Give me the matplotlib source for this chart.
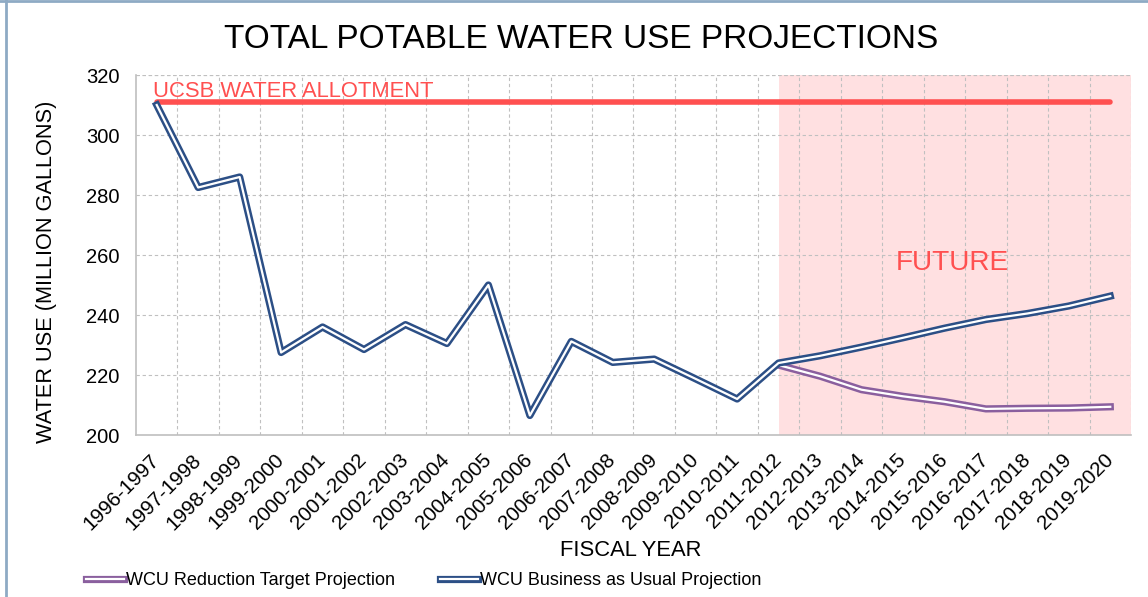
import numpy as np
import matplotlib
matplotlib.use("Agg")
import matplotlib.pyplot as plt
import matplotlib.patheffects as pe
from matplotlib.lines import Line2D
from matplotlib.transforms import ScaledTranslation

BASE = ['Liberation Sans', 'DejaVu Sans']
plt.rcParams['font.family'] = BASE

years = ['1996-1997', '1997-1998', '1998-1999', '1999-2000', '2000-2001', '2001-2002',
         '2002-2003', '2003-2004', '2004-2005', '2005-2006', '2006-2007', '2007-2008',
         '2008-2009', '2009-2010', '2010-2011', '2011-2012', '2012-2013', '2013-2014',
         '2014-2015', '2015-2016', '2016-2017', '2017-2018', '2018-2019', '2019-2020']
bau = [310, 282.5, 286, 227.5, 236, 228.5, 236.8, 230.5, 250, 206.5, 231.2, 224.2,
       225.3, 218.7, 212, 224, 226.4, 229.3, 232.4, 235.6, 238.5, 240.5, 243, 246.3]
reduction = [np.nan] * 15 + [223.3, 219.6, 215.1, 212.9, 211.1, 208.7, 208.9, 209.0, 209.4]
allotment = [311] * 24
future_start = 15

fig = plt.figure(figsize=(11.48, 5.97), dpi=100)
ax = fig.add_axes([136/1148, 1-435/597, (1131-136)/1148, (435-75)/597])
renderer = fig.canvas.get_renderer()


def fit(t, target_len, target_cap, size=16, w=0.7):
    """Compromise font size between matching text length and cap height."""
    t.set_fontsize(size)
    bb = t.get_window_extent(renderer)
    L = bb.height if t.get_rotation() == 90 else bb.width
    s_len = size * target_len / L
    s_cap = target_cap / (0.716 * 100 / 72)
    t.set_fontsize(s_len ** w * s_cap ** (1 - w))
    return t


x = np.arange(len(years))
ax.axvspan(future_start, len(years) - 0.5, color='#ffe0e1', zorder=0, lw=0)
ax.plot(x, allotment, color='#ff5050', lw=4, solid_capstyle='round', zorder=3)

purple = '#8a5f9e'
blue = '#2c4f86'
ax.plot(x, reduction, color='white', lw=1.6, zorder=4,
        path_effects=[pe.Stroke(linewidth=5.2, foreground=purple), pe.Normal()],
        label='WCU Reduction Target Projection')
ax.plot(x, bau, color='white', lw=1.6, zorder=5,
        path_effects=[pe.Stroke(linewidth=5.2, foreground=blue), pe.Normal()],
        label='WCU Business as Usual Projection')

ax.set_xlim(-0.5, len(years) - 0.5)
ax.set_ylim(200, 320)
ax.set_yticks(np.arange(200, 321, 20))
ax.set_xticks(x)
ax.set_xticklabels(years, rotation=45, ha='right', rotation_mode='anchor', fontsize=14.9)
ax.tick_params(axis='x', length=0, pad=11)
ax.tick_params(axis='y', length=0, pad=12, labelsize=14.5)
shift = ScaledTranslation(-7/100, 0, fig.dpi_scale_trans)
for lab in ax.get_xticklabels():
    lab.set_transform(lab.get_transform() + shift)
ax.set_xticks(np.arange(0.5, len(years), 1), minor=True)
ax.tick_params(axis='x', which='minor', length=0)
ax.grid(False)
ax.grid(True, which='minor', axis='x', color='#c0c0c0', ls=(0, (3, 2.5)), lw=0.8)
ax.grid(True, which='major', axis='y', color='#c0c0c0', ls=(0, (3, 2.5)), lw=0.8)
ax.axhline(320, color='#c0c0c0', ls=(0, (3, 2.5)), lw=0.8)
for s in ['top', 'right']:
    ax.spines[s].set_visible(False)
for s in ['left', 'bottom']:
    ax.spines[s].set_color('#bfbfbf')
    ax.spines[s].set_linewidth(1.2)
ax.set_axisbelow(True)

t1 = ax.text(-0.08, 312.6, 'UCSB WATER ALLOTMENT', color='#ff5050',
             va='baseline', ha='left', zorder=6)
fit(t1, 272, 17)
t2 = ax.text(19.2, 255, 'FUTURE', color='#ff5050', ha='center', va='baseline')
fit(t2, 110, 22)

t3 = fig.text(0.5066, 1 - 40/597, 'TOTAL POTABLE WATER USE PROJECTIONS',
              ha='center', va='center', color='black')
fit(t3, 697, 25.5)
t4 = fig.text(47/1148, 1 - 272/597, 'WATER USE (MILLION GALLONS)',
              rotation=90, ha='center', va='center')
fit(t4, 331, 17)
t5 = fig.text(631/1148, 1 - 551/597, 'FISCAL YEAR', ha='center', va='center')
fit(t5, 137, 17)

leg = fig.legend(loc='center left', bbox_to_anchor=(0.061, 0.027), ncol=2, frameon=False,
                 handlelength=2.1, handletextpad=0.1, columnspacing=2.5,
                 prop={'family': BASE, 'size': 13})

fig.add_artist(Line2D([6/1148, 6/1148], [0, 1], color='#8eaac4', lw=2, transform=fig.transFigure))
fig.add_artist(Line2D([0, 1], [1-1/597, 1-1/597], color='#8eaac4', lw=2, transform=fig.transFigure))

fig.savefig('out.png', dpi=100)
